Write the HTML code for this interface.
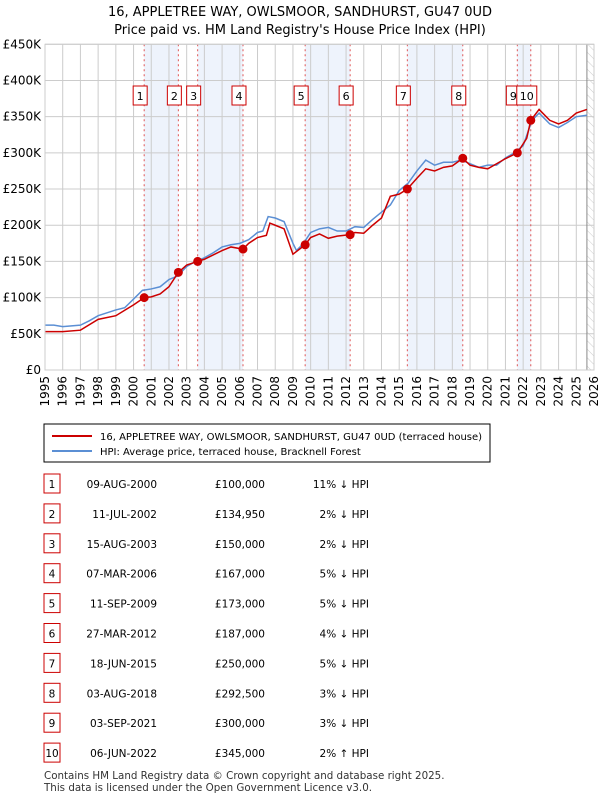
<!DOCTYPE html>
<html><head><meta charset="utf-8"><style>
body{margin:0;background:#fff;font-family:"Liberation Sans","DejaVu Sans",sans-serif;}
svg text{font-family:"DejaVu Sans","Liberation Sans",sans-serif;}
</style></head><body>
<svg id="chart" width="600" height="800" xmlns="http://www.w3.org/2000/svg">
<defs><pattern id="hatch" width="6" height="6" patternUnits="userSpaceOnUse" patternTransform="rotate(-45)"><line x1="0" y1="0" x2="0" y2="6" stroke="#ccc" stroke-width="1"/></pattern></defs>
<text x="300" y="16" text-anchor="middle" font-size="13">16, APPLETREE WAY, OWLSMOOR, SANDHURST, GU47 0UD</text>
<text x="300" y="34" text-anchor="middle" font-size="13">Price paid vs. HM Land Registry's House Price Index (HPI)</text>
<g id="plot"></g>
<rect x="44" y="424" width="446" height="38" fill="#fff" stroke="#000" stroke-width="1"/>
<line x1="52" y1="436" x2="92" y2="436" stroke="#cc0000" stroke-width="2"/>
<text x="100" y="440" font-size="10">16, APPLETREE WAY, OWLSMOOR, SANDHURST, GU47 0UD (terraced house)</text>
<line x1="52" y1="451" x2="92" y2="451" stroke="#5b8fd4" stroke-width="2"/>
<text x="100" y="455" font-size="10">HPI: Average price, terraced house, Bracknell Forest</text>
<g id="table"></g>
<text x="44" y="779" font-size="10.3" fill="#333">Contains HM Land Registry data © Crown copyright and database right 2025.</text>
<text x="44" y="791" font-size="10.3" fill="#333">This data is licensed under the Open Government Licence v3.0.</text>
</svg>
<script>
const hpiYears=[1995,1995.5,1996,1996.5,1997,1997.5,1998,1998.5,1999,1999.5,2000,2000.5,2001,2001.5,2002,2002.5,2003,2003.5,2004,2004.5,2005,2005.5,2006,2006.5,2007,2007.3,2007.6,2008,2008.5,2009,2009.2,2009.6,2010,2010.5,2011,2011.5,2012,2012.5,2013,2013.5,2014,2014.5,2015,2015.5,2016,2016.5,2017,2017.5,2018,2018.5,2019,2019.5,2020,2020.5,2021,2021.5,2022,2022.5,2022.9,2023.5,2024,2024.5,2025,2025.6];
const hpiValues=[62,62,60,61,62,68,75,79,83,86,98,110,112,115,125,130,143,150,155,162,170,173,175,180,190,192,212,210,205,175,165,175,190,195,197,192,192,198,197,208,218,228,248,258,275,290,283,287,287,290,285,280,283,283,293,300,310,345,355,340,335,342,350,352];
const priceYears=[1995,1996,1997,1998,1999,2000,2000.6,2001,2001.5,2002,2002.53,2003,2003.62,2004,2005,2005.5,2006.18,2006.5,2007,2007.5,2007.7,2008,2008.5,2009,2009.69,2010,2010.5,2011,2011.5,2012.23,2012.5,2013,2013.5,2014,2014.5,2015,2015.46,2016,2016.5,2017,2017.5,2018,2018.59,2019,2019.5,2020,2020.5,2021,2021.67,2022.2,2022.43,2022.9,2023.5,2024,2024.5,2025,2025.6];
const priceValues=[53,53,55,70,75,90,100,101,105,115,134.95,145,150,153,165,170,167,175,183,186,203,200,195,160,173,183,188,182,185,187,190,189,200,210,240,243,250,265,278,275,280,282,292.5,283,280,278,285,292,300,320,345,360,345,340,345,355,360];
const saleLabels=["1","2","3","4","5","6","7","8","9","10"];
const saleYears=[2000.6,2002.53,2003.62,2006.18,2009.69,2012.23,2015.46,2018.59,2021.67,2022.43];
const saleDates=["09-AUG-2000","11-JUL-2002","15-AUG-2003","07-MAR-2006","11-SEP-2009","27-MAR-2012","18-JUN-2015","03-AUG-2018","03-SEP-2021","06-JUN-2022"];
const salePrices=[100,134.95,150,167,173,187,250,292.5,300,345];
const salePriceText=["£100,000","£134,950","£150,000","£167,000","£173,000","£187,000","£250,000","£292,500","£300,000","£345,000"];
const saleHpiText=["11% ↓ HPI","2% ↓ HPI","2% ↓ HPI","5% ↓ HPI","5% ↓ HPI","4% ↓ HPI","5% ↓ HPI","3% ↓ HPI","3% ↓ HPI","2% ↑ HPI"];
const yTicks=[0,50,100,150,200,250,300,350,400,450];
const yTickLabels=["£0","£50K","£100K","£150K","£200K","£250K","£300K","£350K","£400K","£450K"];
const xTicks=[1995,1996,1997,1998,1999,2000,2001,2002,2003,2004,2005,2006,2007,2008,2009,2010,2011,2012,2013,2014,2015,2016,2017,2018,2019,2020,2021,2022,2023,2024,2025,2026];

const X0=45,X1=594,Y0=370,Y1=44.3;
const xs=y=>X0+(y-1995)/(2026-1995)*(X1-X0);
const ys=v=>Y0-v/450*(Y0-Y1);
const NS="http://www.w3.org/2000/svg";
function mk(parent,tag,attrs,text){const e=document.createElementNS(NS,tag);for(const k in attrs)e.setAttribute(k,attrs[k]);if(text!==undefined)e.textContent=text;parent.appendChild(e);return e;}
const plot=document.getElementById('plot');
for(let i=0;i<saleYears.length;i+=2){
  const b=mk(plot,'rect',{x:xs(saleYears[i]),y:Y1,width:xs(saleYears[i+1])-xs(saleYears[i]),height:Y0-Y1,fill:'#eef3fc'});
  
  
}
const hat=mk(plot,'rect',{x:xs(2025.6),y:Y1,width:X1-xs(2025.6),height:Y0-Y1,fill:'url(#hatch)'});


yTicks.forEach((t,i)=>{
  const g=mk(plot,'line',{x1:X0,x2:X1,y1:ys(t),y2:ys(t),stroke:'#ccc','stroke-width':1});
  
  
  const l=mk(plot,'text',{x:X0-4,y:ys(t)+4,'text-anchor':'end','font-size':12},yTickLabels[i]);
  
  
});
xTicks.forEach(t=>{
  const g=mk(plot,'line',{x1:xs(t),x2:xs(t),y1:Y1,y2:Y0,stroke:'#ccc','stroke-width':1});
  
  
  const l=mk(plot,'text',{x:0,y:0,'text-anchor':'end','font-size':12,transform:`translate(${xs(t)+4},${Y0+6}) rotate(-90)`},String(t));
  
  
});
const cur=mk(plot,'line',{x1:xs(2025.6),x2:xs(2025.6),y1:Y1,y2:Y0,stroke:'#888','stroke-width':1});


saleYears.forEach(y=>{
  const v=mk(plot,'line',{x1:xs(y),x2:xs(y),y1:Y1,y2:Y0,stroke:'#e05555','stroke-width':1,'stroke-dasharray':'2,3'});
  
  
});
const hp=mk(plot,'polyline',{points:hpiYears.map((y,i)=>xs(y)+','+ys(hpiValues[i])).join(' '),fill:'none',stroke:'#5b8fd4','stroke-width':1.5});


const pp=mk(plot,'polyline',{points:priceYears.map((y,i)=>xs(y)+','+ys(priceValues[i])).join(' '),fill:'none',stroke:'#cc0000','stroke-width':1.5});


saleYears.forEach((y,i)=>{
  const d=mk(plot,'circle',{cx:xs(y),cy:ys(salePrices[i]),r:4.5,fill:'#cc0000'});
  
  
  const w=saleLabels[i].length>1?20:14;
  const cx=xs(y)-4;
  const b=mk(plot,'rect',{x:cx-w/2,y:86,width:w,height:19,fill:'#fff',stroke:'#cc0000','stroke-width':1});
  
  
  const t=mk(plot,'text',{x:cx,y:100,'text-anchor':'middle','font-size':11},saleLabels[i]);
  
  
});
const frame=mk(plot,'rect',{x:X0,y:Y1,width:X1-X0,height:Y0-Y1,fill:'none',stroke:'#ccc'});


const tb=document.getElementById('table');
saleLabels.forEach((s,i)=>{
  const y=484+i*29.9;
  const b=mk(tb,'rect',{x:44,y:y-10,width:16,height:19,fill:'#fff',stroke:'#cc0000'});
  
  
  const n=mk(tb,'text',{x:52,y:y+4,'text-anchor':'middle','font-size':10.5},s);
  
  
  const d=mk(tb,'text',{x:157,y:y+4,'text-anchor':'end','font-size':10.5},saleDates[i]);
  
  
  const p=mk(tb,'text',{x:265,y:y+4,'text-anchor':'end','font-size':10.5},salePriceText[i]);
  
  
  const h=mk(tb,'text',{x:369,y:y+4,'text-anchor':'end','font-size':10.5},saleHpiText[i]);
  
  
});
</script>
</body></html>
